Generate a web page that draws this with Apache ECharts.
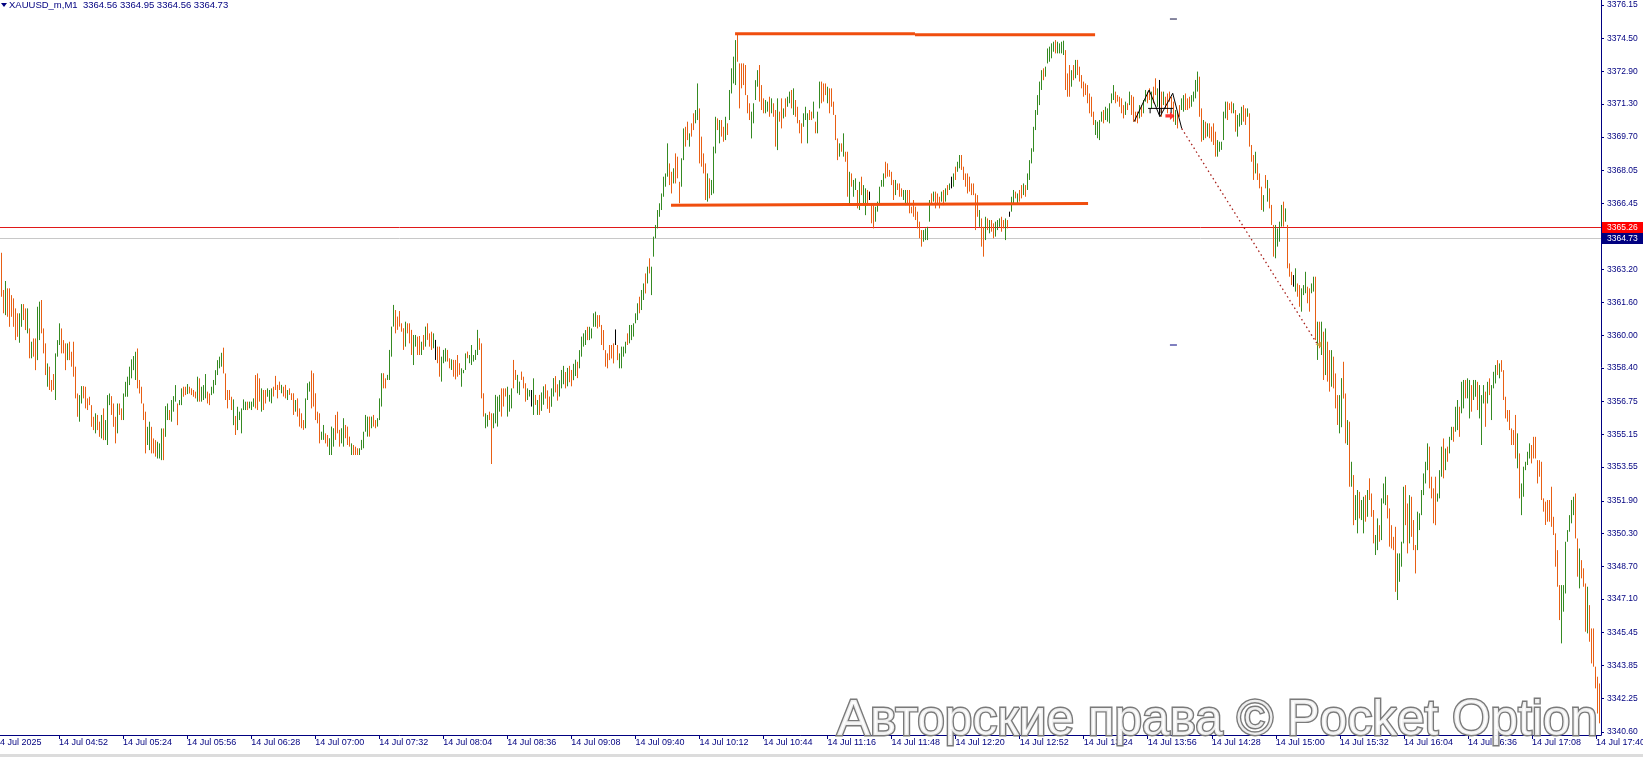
<!DOCTYPE html>
<html><head><meta charset="utf-8">
<script src="https://cdn.jsdelivr.net/npm/echarts@6/dist/echarts.min.js"></script>
<style>html,body{margin:0;padding:0;background:#fff;overflow:hidden}#c{width:1643px;height:757px}</style>
</head><body><div id="c"></div>
<script>
// ---------- DATA ----------
const firstMinute = 4 * 60 + 20;      // first category 04:20 (axis label "14 Jul 2025")
const categoryCount = 803;            // 04:20 .. 17:42 (one per minute, M1)
const firstBarIndex = 3;              // first drawn bar at 04:23
const labelEvery = 32;                // time label every 32 bars
const dateLabel = '14 Jul 2025';
const dayPrefix = '14 Jul ';

const barHigh = [
3364.03,3362.21,3362.65,3362.29,3362.29,3361.96,3361.80,3361.31,3361.07,3361.07,
3361.52,3361.52,3361.31,3361.31,3360.33,3359.68,3359.84,3359.84,3361.39,3361.64,
3361.72,3360.33,3359.60,3358.62,3358.46,3357.81,3358.10,3359.11,3359.76,3360.58,
3360.33,3359.76,3359.60,3359.60,3359.68,3359.19,3359.68,3358.46,3357.15,3357.07,
3357.51,3357.51,3357.48,3356.91,3356.99,3356.58,3356.01,3356.18,3356.10,3355.77,
3356.10,3356.42,3355.85,3357.07,3357.15,3357.02,3356.66,3356.01,3356.66,3356.66,
3356.42,3357.15,3357.72,3357.97,3358.46,3358.82,3358.98,3359.19,3359.35,3357.81,
3357.48,3356.66,3356.26,3355.52,3355.77,3355.52,3354.95,3354.87,3354.79,3354.71,
3355.44,3355.44,3356.53,3356.66,3356.34,3356.83,3357.02,3357.56,3356.66,3356.83,
3357.40,3357.48,3357.48,3357.61,3357.48,3357.40,3357.32,3357.24,3357.97,3357.89,
3357.48,3357.56,3358.10,3357.24,3357.15,3357.48,3357.81,3358.29,3358.78,3358.95,
3359.14,3359.39,3358.13,3357.32,3357.32,3356.99,3356.86,3356.05,3356.50,3356.26,
3356.42,3356.86,3356.75,3356.75,3356.75,3356.75,3356.91,3358.05,3358.13,3357.89,
3357.40,3357.32,3357.32,3357.40,3357.32,
3357.40,3357.48,3358.01,3357.57,3357.73,3357.57,3357.48,3357.57,3357.32,3357.40,
3357.16,3357.16,3356.83,3356.91,3356.42,3356.18,3355.85,3356.91,3357.65,3357.73,
3358.27,3358.14,3357.16,3356.26,3356.18,3355.28,3355.61,3355.20,3355.12,3354.96,
3355.53,3355.45,3356.10,3356.26,3355.37,3355.45,3355.94,3355.61,3355.53,3355.04,
3354.71,3354.63,3354.55,3354.47,3354.47,3354.88,3355.28,3356.10,3356.02,3356.02,
3356.02,3356.10,3355.85,3355.94,3356.91,3358.14,3358.14,3357.89,3358.06,3359.28,
3360.42,3361.48,3361.23,3360.91,3361.18,3360.58,3360.34,3360.66,3360.58,3360.58,
3360.26,3360.01,3360.01,3359.93,3359.96,3359.68,3360.01,3360.42,3360.58,3360.09,
3360.17,3360.09,3359.77,3359.44,3359.44,3358.95,3359.28,3359.36,3359.28,3358.87,
3358.82,3358.79,3358.79,3359.03,3358.63,3358.38,3358.30,3359.11,3359.20,3359.03,
3359.52,3359.03,3359.28,3360.26,3359.85,3359.60,3357.16,3356.18,3356.10,3356.26,
3356.18,3356.18,3357.08,3357.00,3357.08,3357.40,3357.40,3357.40,3357.48,3357.08,
3357.40,3358.79,3358.30,3358.06,3357.73,3358.22,3357.97,3357.65,3357.40,3357.32,
3357.32,3357.89,3357.08,3356.83,3357.08,
3357.20,3357.50,3357.60,3357.30,3357.00,3357.40,3357.90,3358.00,3357.60,3357.80,
3358.30,3358.50,3358.20,3358.40,3358.50,3358.30,3358.60,3358.80,3358.70,
3359.27,3359.93,3360.09,3360.25,3360.41,3360.41,3360.33,3361.07,3361.15,3360.98,
3360.98,3360.50,3360.25,3359.27,3359.11,3359.52,3359.52,3359.60,3360.28,3359.52,
3359.11,3359.44,3359.44,3359.68,3360.09,3360.50,3360.50,3360.58,3361.07,3361.56,
3361.88,3362.21,3362.53,3363.02,3363.35,3363.76,3363.35,3364.82,3365.39,3366.12,
3366.45,3366.93,3367.75,3367.91,3369.38,3368.40,3367.99,3368.16,3368.89,3368.73,
3367.50,3368.65,3370.11,3370.19,3370.44,3369.87,3370.36,3370.85,3371.01,3372.31,
3371.09,3369.71,3368.89,3368.40,3367.91,3367.67,3367.59,3369.22,3370.68,3370.60,
3370.52,3370.52,3370.19,3370.68,3370.36,3371.99,3373.05,3373.62,3374.43,3374.76,
3373.29,3373.29,3373.29,3373.21,3371.74,3371.34,3370.93,3371.34,3372.47,3372.96,
3373.21,3372.23,3371.58,3371.50,3371.42,3371.66,3371.58,3371.34,3371.01,3371.58,
3370.93,3371.58,3371.09,3371.58,3371.66,3371.91,3371.99,3372.07,3371.50,3371.17,
3370.52,3370.36,3370.85,3371.17,
3370.85,3371.01,3370.93,3371.42,3370.44,3370.93,3372.40,3372.40,3372.31,3372.31,
3372.15,3372.07,3372.07,3371.42,3370.77,3369.62,3369.38,3369.38,3369.87,3368.97,
3368.97,3367.99,3367.91,3367.59,3367.67,3367.10,3367.50,3367.75,3367.34,3367.18,
3367.10,3367.02,3366.36,3366.45,3366.28,3366.53,3367.26,3367.59,3367.91,3368.48,
3368.40,3368.08,3367.99,3367.59,3367.59,3367.42,3367.42,3367.18,3367.10,3367.10,
3367.10,3367.10,3366.28,3366.61,3366.28,3366.04,3365.55,3365.14,3365.14,3365.22,
3365.30,3366.61,3366.93,3367.02,3367.02,3366.93,3366.77,3367.02,3367.10,3367.18,
3367.34,3367.42,3367.75,3367.91,3368.24,3368.48,3368.81,3368.81,3368.24,3367.91,
3367.91,3367.75,3367.42,3367.42,3366.93,3366.85,3366.12,3365.71,3365.30,3365.79,
3365.71,3365.63,3365.63,3365.47,3365.55,3365.63,3365.71,3365.79,3365.63,3365.71,
3365.63,3366.04,3366.77,3367.10,3367.02,3366.93,3367.10,3367.34,3367.42,3367.34,
3367.91,3368.56,3369.14,3370.19,3371.01,3371.74,3372.40,3372.96,3373.05,3373.13,
3374.02,3374.11,3374.27,3374.35,3374.43,3374.35,3374.27,3374.35,3374.40,3373.94,
3372.80,3373.21,3372.96,3373.21,
3373.46,3373.46,3373.13,3372.72,3372.40,3372.31,3372.23,3371.82,3371.66,3370.93,
3370.52,3370.44,3370.52,3370.93,3371.01,3371.17,3371.09,3371.34,3371.82,3372.23,
3371.91,3371.74,3371.66,3371.58,3371.25,3371.42,3371.34,3371.91,3371.74,3371.66,
3370.93,3370.93,3371.25,3371.25,3371.50,3371.99,3371.91,3372.07,3371.91,3372.15,
3372.56,3372.07,3372.48,3371.91,3371.91,3371.66,3371.82,3371.91,3371.66,3371.42,
3371.01,3370.93,3371.25,3371.58,3371.74,3371.82,3371.58,3371.66,3371.74,3371.91,
3372.48,3372.89,3372.64,3371.09,3370.52,3370.44,3370.36,3370.36,3370.20,3370.36,
3369.95,3369.54,3369.46,3369.46,3370.93,3371.42,3371.42,3371.34,3371.42,3371.34,
3371.01,3370.77,3370.85,3371.17,3371.25,3371.09,3371.09,3370.85,3369.30,3368.81,
3368.97,3368.40,3367.91,3367.26,3366.85,3367.83,3367.59,3367.18,3366.37,3365.39,
3365.39,3365.22,3365.55,3366.37,3366.53,3366.20,3365.39,3363.51,3363.10,3362.94,
3363.27,3362.53,3362.45,3362.29,3362.45,3363.10,3362.37,3362.29,3362.53,3362.86,
3362.86,3360.66,3360.66,3360.66,3360.17,3360.33,3359.68,3359.27,3359.27,3358.95,
3358.13,3357.07,3357.07,3357.90,3358.70,
3357.15,3355.85,3355.77,3353.81,3353.16,3352.18,3352.43,3352.34,3351.94,3352.10,
3352.18,3352.43,3353.00,3352.26,3351.45,3350.23,3351.04,3350.71,3352.02,3352.75,
3353.08,3352.18,3351.53,3350.71,3350.14,3350.63,3349.33,3349.33,3349.90,3352.59,
3352.67,3351.77,3352.18,3352.10,3350.96,3349.74,3351.37,3351.29,3352.43,3353.24,
3353.81,3354.71,3354.55,3353.08,3352.51,3353.08,3352.26,3353.40,3354.55,3354.95,
3354.46,3354.55,3355.03,3355.52,3355.52,3356.50,3356.83,3356.50,3357.72,3357.81,
3357.81,3357.89,3357.81,3357.56,3357.81,3357.81,3357.72,3357.56,3357.07,3357.56,
3357.24,3357.72,3357.89,3357.56,3358.21,3358.54,3358.78,3358.62,3358.78,3358.29,
3356.99,3356.34,3356.34,3355.44,3355.36,3356.10,3355.20,3354.22,3352.75,3353.57,
3353.81,3354.30,3354.71,3354.63,3355.03,3355.03,3353.89,3353.89,3353.81,3352.02,
3351.86,3351.94,3351.94,3352.59,3351.12,3350.31,3349.49,3347.78,3347.78,3347.78,
3349.90,3350.47,3351.20,3351.94,3352.10,3352.26,3350.06,3349.57,3349.00,3348.60,
3347.86,3347.70,3346.80,3345.66,3345.66,3343.79,3343.30,3342.97
];

const barLow = [
3361.88,3361.07,3360.98,3360.90,3360.41,3360.90,3360.41,3359.76,3359.92,3359.63,
3360.41,3360.74,3360.25,3360.09,3358.87,3358.87,3358.95,3358.29,3358.78,3359.76,
3360.09,3359.11,3358.05,3357.48,3357.32,3357.24,3357.32,3356.83,3358.95,3359.52,
3359.11,3359.11,3358.29,3358.78,3358.78,3358.46,3357.97,3356.91,3356.01,3355.77,
3356.66,3356.91,3356.42,3356.34,3356.58,3355.52,3355.36,3355.20,3355.36,3355.03,
3354.95,3354.87,3354.87,3354.63,3356.58,3356.10,3355.52,3354.71,3355.20,3356.10,
3355.85,3355.85,3356.99,3356.99,3357.56,3357.89,3358.29,3357.81,3357.40,3357.15,
3356.66,3355.85,3354.22,3354.63,3354.38,3354.22,3354.22,3354.06,3353.97,3353.97,
3353.89,3353.89,3355.03,3355.85,3355.85,3355.77,3356.26,3356.75,3355.60,3356.58,
3356.58,3356.99,3357.07,3357.12,3357.15,3357.07,3356.99,3356.91,3356.75,3356.75,
3356.75,3356.83,3356.91,3356.66,3356.58,3357.07,3357.15,3357.56,3358.05,3358.38,
3358.46,3358.13,3356.83,3356.42,3356.83,3356.34,3355.60,3355.12,3355.36,3355.85,
3355.20,3356.34,3356.34,3356.34,3356.42,3356.34,3356.50,3356.42,3356.34,3356.75,
3356.26,3356.34,3356.66,3356.99,3356.75,
3356.67,3357.00,3357.32,3356.91,3357.32,3357.16,3357.00,3356.91,3356.83,3357.08,
3356.83,3356.10,3356.26,3356.02,3355.53,3355.45,3355.37,3355.45,3356.83,3357.24,
3356.42,3356.51,3355.85,3355.69,3354.71,3354.88,3354.88,3354.71,3354.55,3354.14,
3354.14,3354.55,3354.88,3355.20,3354.55,3354.71,3354.55,3354.96,3354.63,3354.55,
3354.14,3354.14,3354.14,3354.14,3354.14,3354.39,3354.47,3355.28,3355.04,3355.04,
3355.45,3355.53,3355.45,3355.53,3355.85,3356.51,3357.40,3357.40,3357.81,3357.81,
3358.95,3360.42,3360.09,3360.26,3360.42,3360.17,3359.28,3359.44,3360.09,3359.60,
3359.03,3358.54,3359.44,3359.03,3359.03,3359.03,3359.28,3359.44,3359.77,3359.44,
3359.28,3359.36,3358.79,3358.63,3357.97,3357.73,3358.63,3358.71,3358.71,3358.38,
3358.30,3357.97,3357.84,3357.97,3358.06,3357.48,3358.14,3358.30,3358.87,3358.63,
3358.54,3358.71,3358.79,3359.03,3359.28,3356.91,3356.02,3355.45,3355.53,3355.85,
3353.70,3355.45,3355.69,3355.53,3356.26,3356.02,3356.51,3357.00,3356.02,3356.26,
3356.42,3357.40,3357.81,3357.16,3357.08,3357.81,3357.40,3356.75,3356.83,3357.00,
3356.51,3356.10,3356.59,3356.10,3356.10,
3356.30,3356.60,3356.90,3356.40,3356.20,3356.50,3357.00,3357.20,3356.80,3357.00,
3357.40,3357.60,3357.40,3357.50,3357.70,3357.50,3357.80,3358.00,3357.90,
3358.38,3358.95,3359.44,3359.52,3359.76,3359.76,3359.84,3360.41,3360.41,3360.33,
3360.41,3359.52,3359.27,3358.46,3358.38,3358.78,3358.86,3358.62,3359.52,3358.78,
3358.38,3358.38,3358.95,3359.11,3359.52,3359.60,3359.76,3359.93,3360.58,3360.74,
3361.07,3361.23,3361.72,3362.04,3362.53,3363.02,3361.96,3363.84,3364.74,3365.22,
3365.79,3366.12,3366.77,3367.26,3367.75,3367.34,3366.93,3367.42,3367.42,3367.67,
3366.45,3367.26,3368.56,3369.22,3369.54,3369.22,3369.71,3370.03,3370.36,3370.52,
3368.40,3368.24,3367.91,3366.61,3366.53,3366.69,3366.85,3366.93,3368.89,3370.03,
3369.38,3369.71,3369.46,3369.54,3369.79,3370.52,3371.82,3372.31,3372.23,3373.37,
3371.09,3372.07,3372.23,3371.74,3370.85,3370.52,3369.62,3370.36,3371.50,3372.15,
3371.42,3371.01,3370.85,3370.85,3370.93,3370.68,3370.85,3370.68,3369.22,3369.05,
3370.44,3370.11,3370.60,3370.68,3371.17,3371.34,3371.09,3370.77,3370.68,3370.36,
3369.87,3369.38,3370.19,3370.52,
3369.38,3370.52,3370.52,3370.60,3369.87,3369.87,3371.09,3371.34,3371.42,3371.74,
3371.34,3370.85,3371.17,3370.77,3369.54,3368.56,3368.73,3368.97,3368.73,3368.48,
3366.77,3366.45,3367.26,3366.77,3367.10,3366.20,3366.12,3366.85,3366.36,3365.87,
3366.36,3366.61,3365.47,3365.22,3365.55,3366.04,3366.36,3367.26,3367.26,3367.67,
3367.75,3367.75,3367.34,3366.61,3366.85,3367.10,3366.77,3366.77,3366.61,3366.36,
3366.36,3365.96,3365.96,3365.79,3365.63,3365.22,3364.74,3364.33,3364.57,3364.65,
3364.65,3365.55,3366.45,3366.53,3366.20,3366.45,3366.20,3366.53,3366.36,3366.53,
3366.85,3367.10,3367.18,3367.26,3367.59,3367.99,3368.16,3368.08,3367.59,3367.26,
3366.93,3367.02,3366.85,3366.85,3365.14,3365.79,3365.30,3364.33,3363.84,3364.65,
3365.14,3364.98,3365.06,3364.74,3364.82,3365.14,3365.30,3365.06,3365.22,3364.65,
3365.22,3365.79,3366.04,3366.45,3366.69,3366.45,3366.53,3366.69,3366.85,3366.77,
3367.10,3367.59,3368.40,3368.97,3370.03,3370.77,3371.25,3371.99,3372.47,3372.64,
3373.29,3373.37,3373.54,3373.86,3373.78,3373.78,3373.78,3373.78,3373.70,3371.99,
3371.66,3371.66,3372.15,3372.47,
3372.56,3372.72,3372.40,3372.07,3371.66,3371.74,3371.34,3370.85,3370.68,3370.28,
3369.79,3369.63,3369.54,3370.44,3370.36,3370.52,3370.44,3370.36,3371.34,3371.50,
3371.34,3371.42,3371.17,3370.85,3370.60,3370.77,3371.01,3371.25,3370.77,3370.44,
3370.44,3370.36,3370.60,3370.68,3370.85,3371.42,3371.34,3371.50,3371.09,3371.34,
3371.74,3371.17,3370.77,3370.68,3371.25,3371.09,3370.85,3371.42,3371.09,3370.44,
3370.28,3370.11,3370.68,3371.01,3370.93,3371.01,3371.01,3371.09,3371.17,3371.42,
3371.58,3371.91,3370.68,3369.46,3369.54,3369.63,3369.71,3369.63,3369.46,3369.30,
3368.73,3368.73,3368.97,3369.06,3369.54,3370.60,3370.52,3371.01,3370.85,3370.85,
3369.95,3369.71,3370.20,3370.28,3370.44,3370.28,3370.68,3369.22,3368.48,3367.59,
3367.91,3367.59,3367.18,3366.12,3366.04,3367.18,3366.53,3366.20,3365.39,3363.84,
3363.76,3364.33,3364.57,3365.31,3365.31,3365.55,3363.27,3362.86,3362.45,3362.37,
3362.13,3361.88,3361.39,3361.15,3361.96,3362.05,3361.56,3361.15,3362.05,3362.13,
3359.76,3358.79,3359.36,3359.03,3357.81,3358.05,3357.73,3357.24,3357.48,3357.40,
3356.42,3355.61,3355.20,3355.50,3356.90,
3354.71,3354.63,3352.59,3352.59,3350.71,3350.96,3350.31,3351.04,3350.96,3350.31,
3350.88,3351.12,3351.94,3351.12,3349.82,3349.25,3349.49,3349.90,3349.98,3351.77,
3351.69,3351.04,3349.66,3349.57,3349.49,3347.45,3347.05,3347.94,3348.68,3349.82,
3350.71,3349.33,3349.82,3350.14,3349.49,3348.35,3349.49,3350.47,3351.20,3352.18,
3352.75,3353.40,3352.51,3352.02,3350.80,3350.71,3351.86,3352.02,3353.08,3353.00,
3353.40,3353.81,3354.22,3354.87,3354.79,3355.28,3355.36,3355.03,3356.18,3356.42,
3356.91,3356.91,3355.93,3356.26,3356.83,3356.99,3356.34,3355.93,3354.63,3356.66,
3355.52,3356.66,3357.07,3355.85,3357.40,3357.64,3358.05,3357.89,3358.21,3356.83,
3355.93,3355.77,3355.36,3354.63,3354.63,3353.97,3353.49,3352.02,3351.20,3352.10,
3353.40,3353.65,3353.97,3353.73,3353.97,3353.97,3352.75,3353.08,3351.94,3351.37,
3350.72,3350.88,3350.88,3350.63,3350.23,3348.68,3347.70,3346.07,3344.93,3346.48,
3347.37,3349.90,3350.39,3350.80,3351.20,3350.06,3348.19,3347.62,3348.11,3347.70,
3345.50,3345.42,3345.01,3343.95,3343.79,3342.73,3341.50,3341.02
];

// bar direction: g = up (close>open), o = down, b = unchanged (doji)
const barDir = (
'oogoooooog googogoogg ooogoooggg ooogooooog goooooogoo gogggooogo ogggggggoo oooggooogg goggogggog googoooogo gggooggggg gooooogogg gggogggooo googg ' +
'goooogoogo oogooooggg oooooggoog ggoooggooo gooogggggo goog ggoogg ggooooogoo oggoogogoo ogboogggoo goooogggog ggggoooggo oggggooogg googgooogg bgogo ' +
'ggoooggoog ggogooggo ' +
'ggggoggggo oooooooobo ggggoggggg oggogogggg gggggoogoo oggoogoogg oooogogggo googoggggo oooooogggg oooggogoog oogoggogoo oogg ' +
'googoggooo gooooogogo ogoggogogg oboogggggo oooogooogg oooooooogg ggogooogog ogbgoggooo oooooogoog ogoogggoog obggogoogo ggggggggog ggggoggggo oogo ' +
'gooooooooo ggggoggggg ooooogogoo oogoggoogo ogbogooooo googgooogg ggoogogooo ogggggooog ogggoogooo gooogogooo ggggogooob goog ggoogg ogogogoogo ooggo ' +
'ogogoggogg ogoooggogg gooooogggg oogooogggg ggoooogggo goggoggogg oggoggoggg ogogggogoo oooooogogg gggooooooo oooooooogg gggggoogoo ogoooooo'
).replace(/\s+/g, '');

const priceTicks = [3376.15,3374.50,3372.90,3371.30,3369.70,3368.05,3366.45,3363.20,3361.60,3360.00,3358.40,
  3356.75,3355.15,3353.55,3351.90,3350.30,3348.70,3347.10,3345.45,3343.85,3342.25,3340.60];
const priceMin = 3340.45, priceMax = 3376.39;
const askPrice = 3365.26, bidPrice = 3364.73;
const headerText = 'XAUUSD_m,M1  3364.56 3364.95 3364.56 3364.73';
const watermarkText = 'Авторские права © Pocket Option';

// drawn objects (x in minute-slot units from 04:20, y in price)
const resistanceA = [[370.3, 3374.74], [460.2, 3374.74]];
const resistanceB = [[460.2, 3374.69], [550.2, 3374.69]];
const supportLine = [[338.3, 3366.35], [546.7, 3366.44]];
const patternPath = [[569.7, 3370.44], [577.2, 3371.99], [582.6, 3370.68], [589.0, 3371.83], [593.5, 3370.10]];
const patternBase = [[576.7, 3371.09], [589.2, 3371.09]];
const patternTicks = [[577.7, 3371.09, 3370.85], [583.2, 3371.09, 3370.85], [588.2, 3371.09, 3370.85]];
const dottedTrend = [[593.5, 3370.10], [661.0, 3359.60]];
const arrowPoint = [[587.6, 3370.72]];
const trendEnd = [[661.8, 3359.55]];
const dashTop = [[587.6, 3375.46], [591.1, 3375.46]];
const dashBottom = [[587.6, 3359.52], [591.1, 3359.52]];

// ---------- CHART ----------
const cats = [];
for (let i = 0; i < categoryCount; i++) {
  const m = firstMinute + i;
  cats.push(String(Math.floor(m / 60)).padStart(2, '0') + ':' + String(m % 60).padStart(2, '0'));
}
const dirCode = { g: 0, o: 1, b: 2 };
const dirColor = ['#358a22', '#e85f14', '#000000'];
const bars = barHigh.map((h, i) => [i + firstBarIndex, h, barLow[i], dirCode[barDir[i]] ?? 1]);

const navy = '#000080';
const FONT = '"Liberation Sans", Arial, sans-serif';

function lineSeries(data, color, width, type) {
  return { type: 'line', xAxisIndex: 1, yAxisIndex: 0, data, symbol: 'none', silent: true,
    lineStyle: { color, width, type: type || 'solid', cap: 'butt' }, z: 5, animation: false };
}

const chart = echarts.init(document.getElementById('c'), null, { renderer: 'canvas' });
chart.setOption({
  animation: false,
  backgroundColor: '#ffffff',
  grid: { left: -6, right: 42, top: 0, bottom: 22, containLabel: false, outerBoundsMode: 'none' },
  xAxis: [{
    type: 'category', data: cats, boundaryGap: true, position: 'bottom',
    axisLine: { show: true, lineStyle: { color: navy, width: 1 } },
    axisTick: { show: true, alignWithLabel: true, length: 4, interval: (i) => i % labelEvery === 0, lineStyle: { color: navy } },
    axisLabel: { show: true, interval: (i) => i % labelEvery === 0, align: 'left', margin: 3,
      color: navy, fontSize: 9, fontFamily: FONT, hideOverlap: false,
      formatter: (v, i) => (i === 0 ? dateLabel : dayPrefix + v) },
    splitLine: { show: false }
  }, {
    type: 'value', min: 0, max: categoryCount, show: false
  }],
  yAxis: [{
    type: 'value', position: 'right', min: priceMin, max: priceMax,
    axisLine: { show: true, onZero: false, lineStyle: { color: navy, width: 1 } },
    axisTick: { show: true, inside: false, length: 3, customValues: priceTicks, lineStyle: { color: navy } },
    axisLabel: { show: true, customValues: priceTicks, margin: 6, color: navy, fontSize: 8.5, fontFamily: FONT,
      formatter: (v) => v.toFixed(2) },
    splitLine: { show: false }
  }],
  series: [
    {
      type: 'custom', xAxisIndex: 0, yAxisIndex: 0, data: bars, clip: true, silent: true,
      encode: { x: 0, y: [1, 2] }, z: 3,
      renderItem: function (params, api) {
        const x = api.value(0), hi = api.value(1), lo = api.value(2), d = api.value(3);
        const p1 = api.coord([x, hi]), p2 = api.coord([x, lo]);
        const px = Math.round(p1[0] - 0.5) + 0.5;
        let y1 = p1[1], y2 = p2[1];
        if (y2 - y1 < 1) y2 = y1 + 1;
        return { type: 'line', shape: { x1: px, y1: y1, x2: px, y2: y2 },
          style: { stroke: dirColor[d] || dirColor[1], lineWidth: 1 } };
      },
      markLine: {
        silent: true, symbol: 'none', animation: false, z: 2,
        data: [
          { yAxis: bidPrice, lineStyle: { color: '#c8c8c8', width: 1, type: 'solid' },
            label: { show: true, position: 'end', distance: 1, formatter: bidPrice.toFixed(2), color: '#ffffff',
              backgroundColor: '#000080', padding: [1, 6, 0, 5], fontSize: 8.5, lineHeight: 10, fontFamily: FONT } },
          { yAxis: askPrice, lineStyle: { color: '#e01818', width: 1, type: 'solid' },
            label: { show: true, position: 'end', distance: 1, formatter: askPrice.toFixed(2), color: '#ffffff',
              backgroundColor: '#ff0000', padding: [1, 6, 0, 5], fontSize: 8.5, lineHeight: 10, fontFamily: FONT } }
        ]
      }
    },
    lineSeries(resistanceA, '#f04e0e', 3),
    lineSeries(resistanceB, '#f04e0e', 3),
    lineSeries(supportLine, '#f04e0e', 3),
    lineSeries(patternPath, '#000000', 1),
    lineSeries(patternBase, '#000000', 1),
    ...patternTicks.map(t => lineSeries([[t[0], t[1]], [t[0], t[2]]], '#000000', 1)),
    lineSeries(dottedTrend, '#a8201a', 1.3, [1.5, 3]),
    lineSeries(dashTop, '#101040', 1),
    lineSeries(dashBottom, navy, 1),
    { type: 'scatter', xAxisIndex: 1, yAxisIndex: 0, data: arrowPoint, silent: true, z: 6,
      symbol: 'path://M0,3 L5,3 L5,0 L10,5 L5,10 L5,7 L0,7 Z', symbolSize: [9, 8],
      itemStyle: { color: '#ff0000' } },
    { type: 'scatter', xAxisIndex: 1, yAxisIndex: 0, data: trendEnd, silent: true, z: 6,
      symbol: 'triangle', symbolRotate: 90, symbolSize: 6, itemStyle: { color: '#d4a037' } }
  ],
  graphic: [
    { type: 'polygon', left: 1, top: 3, shape: { points: [[0, 0], [6, 0], [3, 4]] }, style: { fill: navy }, z: 10 },
    { type: 'text', x: 9, y: 5, z: 10,
      style: { text: headerText, font: '9.5px ' + FONT, fill: navy, textAlign: 'left', textVerticalAlign: 'middle' } },
    { type: 'rect', shape: { x: 0, y: 754, width: 1643, height: 3 }, style: { fill: '#dcdcdc' }, z: 1, silent: true },
    { type: 'text', x: 837, y: 721.5, z: 20, silent: true,
      style: { text: watermarkText, font: '49.5px ' + FONT, fill: 'rgba(255,255,255,0.88)', stroke: '#7a7a7a', lineWidth: 2.8,
        textAlign: 'left', textVerticalAlign: 'middle' } }
  ]
});
</script>
</body></html>
